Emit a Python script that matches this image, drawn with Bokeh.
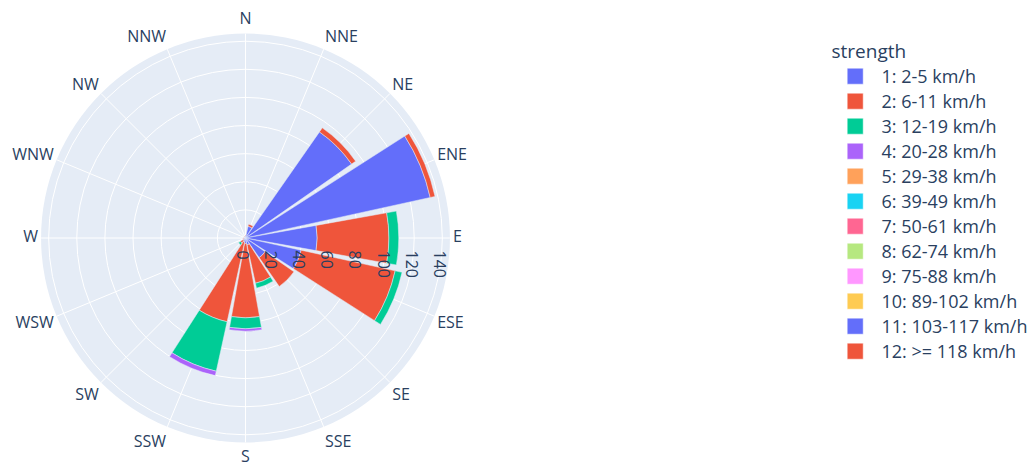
import math
from bokeh.plotting import figure
from bokeh.models import ColumnDataSource, Range1d
from bokeh.core.properties import value
from bokeh.embed import file_html
from bokeh.resources import INLINE

# ---------------- data ----------------
directions = ["N", "NNE", "NE", "ENE", "E", "ESE", "SE", "SSE",
              "S", "SSW", "SW", "WSW", "W", "WNW", "NW", "NNW"]
strength_labels = ["1: 2-5 km/h", "2: 6-11 km/h", "3: 12-19 km/h", "4: 20-28 km/h",
                   "5: 29-38 km/h", "6: 39-49 km/h", "7: 50-61 km/h", "8: 62-74 km/h",
                   "9: 75-88 km/h", "10: 89-102 km/h", "11: 103-117 km/h", "12: >= 118 km/h"]
s1 = [1.5, 8.5, 92, 134.5, 51, 40.5, 17, 5, 4, 3, 2, 1, 1, 0.5, 0.5, 1]
s2 = [0.5, 1.5, 3.5, 3.5, 51, 68.5, 25, 28, 52.8, 58, 2.5, 1, 0.5, 0, 0, 0.5]
s3 = [0, 0, 0, 0, 7, 5, 0, 3.5, 7.8, 36, 1.5, 0, 0, 0, 0, 0]
s4 = [0, 0, 0, 0, 0, 0, 0, 0, 1.7, 3.2, 0, 0, 0, 0, 0, 0]
zeros = [0] * 16
series = [s1, s2, s3, s4] + [zeros] * 8
colors = ["#636efa", "#EF553B", "#00cc96", "#ab63fa", "#FFA15A", "#19d3f3",
          "#FF6692", "#B6E880", "#FF97FF", "#FECB52", "#636efa", "#EF553B"]
radial_ticks = [0, 20, 40, 60, 80, 100, 120, 140]
radial_max = 145.4

# ---------------- layout ----------------
W, H = 1032, 463
SC = 1.406                 # px per radial unit
CX, CY = 245.0, 237.5      # centre of polar in figure px
TXT = "#2a3f5f"
FONT = value("Open Sans")
FS = 16


def to_data(fx, fy):
    return (fx - CX) / SC, (CY - fy) / SC


p = figure(width=W, height=H, output_backend="svg", toolbar_location=None,
           x_range=Range1d(-CX / SC, (W - CX) / SC),
           y_range=Range1d(-(H - CY) / SC, CY / SC),
           x_axis_type=None, y_axis_type=None, min_border=0)
p.outline_line_color = None
p.grid.visible = False
p.background_fill_color = "white"
p.border_fill_color = "white"

# polar background
p.circle(x=[0], y=[0], radius=[radial_max], fill_color="#E5ECF6", line_color=None)
# radial grid circles
p.circle(x=[0] * (len(radial_ticks) - 1), y=[0] * (len(radial_ticks) - 1),
         radius=radial_ticks[1:], fill_color=None, line_color="white", line_width=1)
# angular grid lines
step = 360.0 / len(directions)
theta = [math.radians(90 - i * step) for i in range(len(directions))]
p.segment(x0=[0] * 16, y0=[0] * 16,
          x1=[radial_max * math.cos(t) for t in theta],
          y1=[radial_max * math.sin(t) for t in theta],
          line_color="white", line_width=1)

# stacked polar bars
bar_w = step * 0.9
cum = [0.0] * 16
for k, vals in enumerate(series):
    inner, outer, sa, ea = [], [], [], []
    for i, v in enumerate(vals):
        if v > 0:
            c = 90 - i * step
            inner.append(cum[i])
            outer.append(cum[i] + v)
            sa.append(math.radians(c - bar_w / 2))
            ea.append(math.radians(c + bar_w / 2))
        cum[i] += v
    if inner:
        src = ColumnDataSource(dict(inner=inner, outer=outer, sa=sa, ea=ea))
        p.annular_wedge(x=0, y=0, inner_radius="inner", outer_radius="outer",
                        start_angle="sa", end_angle="ea",
                        source=src, fill_color=colors[k],
                        line_color="#E5ECF6", line_width=0.5)

# angular tick labels (plotly-like placement)
pad = 5.0
ax_x, ax_y, ax_t, ax_al = [], [], [], []
for i, d in enumerate(directions):
    rad = math.radians(90 - i * step)
    c, s = math.cos(rad), math.sin(rad)
    ex, ey = CX + radial_max * SC * c, CY - radial_max * SC * s
    ff = 0.2 if s > 0 else 1.0
    bx = ex + c * 3.0
    by = ey - s * (pad + FS * ff) + abs(c) * FS * 0.35 - 7.5
    dx, dy = to_data(bx, by)
    ax_x.append(dx)
    ax_y.append(dy)
    ax_t.append(d)
    ax_al.append("center" if abs(c) < 0.1 else ("left" if c > 0 else "right"))
p.text(x="x", y="y", text="t", text_align="al",
       source=ColumnDataSource(dict(x=ax_x, y=ax_y, t=ax_t, al=ax_al)),
       text_font=FONT, text_font_size=f"{FS}px", text_color=TXT,
       text_baseline="alphabetic")

# radial tick labels (rotated)
rx = [t - 2.5 / SC for t in radial_ticks]
ry = [-12.5 / SC] * len(radial_ticks)
p.text(x=rx, y=ry, text=[str(t) for t in radial_ticks], angle=-math.pi / 2,
       text_align="left", text_baseline="middle",
       text_font=FONT, text_font_size=f"{FS}px", text_color=TXT)

# legend (drawn manually)
tx, ty = to_data(831.0, 50.7)
p.text(x=[tx], y=[ty], text=["strength"], text_align="left", text_baseline="middle",
       text_font=FONT, text_font_size="19px", text_color=TXT)
lx, ly, tx2 = [], [], []
for k in range(len(strength_labels)):
    fy = 75.7 + 25.0 * k
    a, b = to_data(854.7, fy)
    lx.append(a)
    ly.append(b)
    tx2.append(to_data(881.0, fy)[0])
p.scatter(x=lx, y=ly, marker="square", size=16, fill_color=colors,
          line_color="white", line_width=0.5)
p.text(x=tx2, y=ly, text=strength_labels, text_align="left", text_baseline="middle",
       text_font=FONT, text_font_size="18px", text_color=TXT)

open("out.html", "w").write(file_html(p, INLINE))
